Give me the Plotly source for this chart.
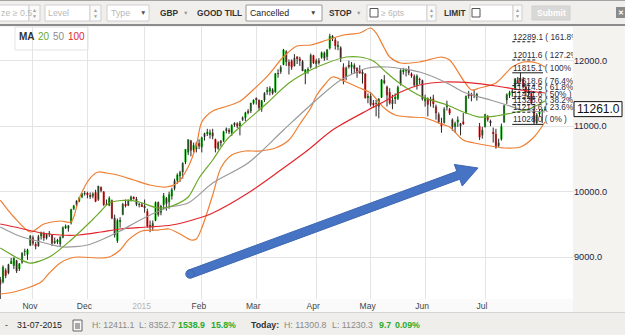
import plotly.graph_objects as go
import pandas as pd
import math

# ------------------------------------------------------------------ data
holidays = ["2014-12-25", "2014-12-26", "2015-01-01", "2015-04-03", "2015-04-06", "2015-05-01"]
dates = [d.strftime("%Y-%m-%d") for d in pd.bdate_range("2014-10-16", "2015-07-31")
         if d.strftime("%Y-%m-%d") not in holidays]

open_ = [
    8660, 8620, 8800, 8760, 8910, 8870, 8950, 8820, 8920, 9080, 9040, 9180,
    9300, 9200, 9170, 9320, 9370, 9290, 9360, 9340, 9230, 9240, 9200, 9300, 9450, 9440, 9520, 9740, 9800, 9860, 9920, 9970,
    9980, 9950, 9930, 9990, 9880, 10070, 10000, 9800, 9790, 9870, 9600, 9250, 9550, 9650, 9800, 9790, 9870, 9920, 9890, 9800, 9806,
    9780, 9700, 9480, 9470, 9560, 9840, 9680, 9800, 9900, 9840, 9930, 10050, 10170, 10240, 10300, 10450, 10600, 10780, 10640, 10650, 10740,
    10680, 10840, 10890, 10880, 10900, 10800, 10660, 10760, 10780, 10930, 10930, 10900, 11020, 11040, 11000, 11100, 11130, 11220, 11230, 11350,
    11420, 11400, 11270, 11400, 11520, 11530, 11560, 11520, 11800, 11830, 11940, 12140, 11980, 12000, 11920, 12060, 12030, 11990, 11800, 11850, 11900, 12080,
    11950, 12000, 12050, 12120, 12060, 12190, 12380, 12320, 12220, 12200, 11900, 11750, 11930, 11900, 11930, 11890, 11850, 11820, 11800, 11440,
    11460, 11340, 11340, 11300, 11440, 11700, 11600, 11520, 11340, 11420, 11420, 11640, 11840, 11850, 11860, 11800, 11760, 11620, 11720, 11700,
    11380, 11420, 11380, 11420, 11300, 11180, 11050, 11050, 11290, 11260, 11100, 10990, 11060, 11000, 11070, 11200, 11480, 11480, 11470, 11440, 11000, 10860,
    10990, 11150, 11080, 10900, 10880, 10700, 10800, 11060, 11400, 11470, 11520, 11580, 11700, 11690, 11720, 11600, 11540, 11500, 11250, 11050, 11190, 11230, 11251,
]
high = [
    8700, 8875, 8830, 8900, 8990, 9000, 8960, 8910, 9075, 9130, 9130, 9340,
    9330, 9230, 9340, 9390, 9390, 9370, 9400, 9350, 9300, 9280, 9320, 9470, 9500, 9490, 9740, 9800, 9870, 9920, 9980, 10010,
    10000, 9990, 9990, 10030, 10093, 10080, 10010, 9880, 9930, 9880, 9650, 9590, 9610, 9830, 9880, 9880, 9940, 9930, 9920, 9830, 9830,
    9880, 9740, 9560, 9560, 9850, 9850, 9800, 9980, 9920, 10000, 10060, 10200, 10280, 10320, 10450, 10650, 10800, 10790, 10750, 10760, 10800,
    10840, 10900, 10960, 10950, 10960, 10810, 10770, 10790, 10930, 10980, 10970, 11030, 11060, 11060, 11080, 11150, 11220, 11260, 11360, 11410,
    11440, 11410, 11400, 11520, 11600, 11610, 11580, 11810, 11870, 11930, 12180, 12160, 12020, 12020, 12100, 12070, 12060, 12010, 11870, 11900, 12110, 12090,
    12030, 12040, 12140, 12140, 12180, 12411, 12390, 12350, 12300, 12220, 11960, 11910, 12000, 11980, 11960, 11900, 11930, 11870, 11810, 11500,
    11520, 11400, 11400, 11430, 11720, 11780, 11620, 11580, 11480, 11500, 11620, 11870, 11890, 11880, 11920, 11820, 11790, 11790, 11740, 11710,
    11480, 11440, 11450, 11480, 11330, 11210, 11130, 11290, 11390, 11280, 11120, 11070, 11150, 11050, 11200, 11470, 11540, 11510, 11560, 11510, 11050, 10990,
    11190, 11170, 11100, 10980, 10960, 10810, 11040, 11330, 11500, 11540, 11580, 11720, 11750, 11815, 11750, 11640, 11600, 11540, 11300, 11200, 11260, 11260, 11301,
]
low = [
    8353, 8600, 8680, 8740, 8900, 8820, 8760, 8790, 8900, 9020, 8960, 9170,
    9180, 9120, 9160, 9270, 9250, 9270, 9310, 9170, 9200, 9200, 9170, 9290, 9430, 9390, 9500, 9720, 9780, 9840, 9900, 9940,
    9900, 9890, 9900, 9840, 9860, 9990, 9780, 9790, 9780, 9580, 9300, 9219, 9450, 9640, 9760, 9780, 9850, 9880, 9780, 9760, 9770,
    9680, 9450, 9382, 9400, 9550, 9620, 9640, 9730, 9710, 9740, 9880, 10020, 10120, 10150, 10200, 10420, 10560, 10540, 10600, 10600, 10650,
    10600, 10780, 10850, 10810, 10800, 10600, 10640, 10690, 10760, 10890, 10880, 10850, 10990, 10970, 10860, 11080, 11080, 11180, 11200, 11330,
    11330, 11240, 11220, 11370, 11480, 11470, 11480, 11510, 11740, 11800, 11930, 11920, 11790, 11860, 11910, 11950, 11920, 11840, 11640, 11800, 11880, 11950,
    11880, 11940, 12030, 12000, 12010, 12170, 12300, 12170, 12160, 11980, 11640, 11700, 11880, 11800, 11800, 11740, 11800, 11650, 11420, 11350,
    11300, 11280, 11150, 11120, 11430, 11640, 11300, 11330, 11260, 11340, 11400, 11620, 11790, 11760, 11780, 11740, 11600, 11560, 11640, 11390,
    11300, 11150, 11300, 11280, 11100, 11040, 10900, 11040, 11240, 11170, 10930, 10900, 10990, 10860, 11020, 11190, 11420, 11380, 11430, 11390, 10790, 10810,
    10980, 11070, 11000, 10750, 10657, 10680, 10780, 11050, 11340, 11430, 11450, 11560, 11650, 11670, 11580, 11460, 11460, 11330, 11028, 11030, 11150, 11050, 11230,
]
close = [
    8582, 8850, 8717, 8887, 8940, 8987, 8788, 8902, 9068, 9082, 9114, 9326,
    9210, 9166, 9315, 9377, 9291, 9351, 9369, 9210, 9248, 9252, 9306, 9456, 9472, 9483, 9732, 9785, 9861, 9915, 9974, 9980,
    9963, 9934, 9971, 9851, 10087, 10014, 9799, 9800, 9903, 9594, 9335, 9563, 9563, 9811, 9786, 9865, 9922, 9900, 9805, 9806, 9780,
    9764, 9473, 9469, 9518, 9837, 9648, 9782, 9941, 9818, 9960, 10032, 10168, 10257, 10299, 10435, 10649, 10798, 10628, 10710, 10738, 10694,
    10828, 10890, 10911, 10905, 10846, 10663, 10752, 10752, 10919, 10963, 10924, 11014, 11051, 11001, 11050, 11131, 11206, 11210, 11354, 11401,
    11409, 11280, 11390, 11504, 11551, 11582, 11500, 11806, 11799, 11901, 12167, 11980, 11922, 11899, 12039, 12041, 11996, 11843, 11865, 11868, 12086, 11966,
    12002, 11967, 12123, 12035, 12166, 12375, 12339, 12227, 12232, 12038, 11688, 11892, 11907, 11940, 11874, 11811, 11811, 11812, 11432, 11454,
    11328, 11327, 11350, 11417, 11709, 11673, 11472, 11351, 11400, 11447, 11595, 11853, 11849, 11864, 11815, 11770, 11625, 11771, 11707, 11413,
    11436, 11328, 11419, 11340, 11197, 11064, 11001, 11265, 11332, 11197, 10984, 11044, 11100, 11040, 11041, 11460, 11471, 11472, 11473, 11492, 10832, 10944,
    11180, 11099, 11058, 10891, 10676, 10747, 10996, 11316, 11485, 11516, 11539, 11716, 11673, 11734, 11604, 11521, 11512, 11347, 11057, 11174, 11211, 11252, 11261,
]

month_labels = ["Nov", "Dec", "2015", "Feb", "Mar", "Apr", "May", "Jun", "Jul"]
y_ticks = [9000, 10000, 11000, 12000]

# indicator lines (candle index, value)
ma20_idx = [0, 7, 11, 18, 26, 33, 37, 40, 47, 51, 58, 63, 69, 73, 78, 83, 88, 98, 106, 114, 120, 127, 132, 137, 142, 147, 155, 164, 170, 176, 182, 188, 195, 200]
ma20_val = [9140, 8973, 8911, 9003, 9263, 9537, 9705, 9828, 9873, 9843, 9751, 9782, 9919, 10209, 10484, 10789, 10988, 11354, 11660, 11858, 11965, 12056, 12056, 11995, 11812, 11644, 11446, 11324, 11217, 11140, 11156, 11202, 11278, 11385]
ma50_idx = [0, 7, 15, 23, 32, 37, 44, 51, 61, 69, 78, 91, 104, 116, 125, 135, 142, 154, 164, 170, 180, 186, 192, 200]
ma50_val = [9461, 9324, 9232, 9156, 9186, 9263, 9400, 9560, 9751, 9828, 10133, 10438, 10942, 11400, 11705, 11889, 11904, 11827, 11660, 11522, 11400, 11324, 11247, 11217]
ma100_idx = [0, 7, 15, 22, 29, 37, 44, 54, 63, 73, 78, 91, 103, 113, 122, 135, 142, 147, 154, 163, 173, 182, 191, 200]
ma100_val = [9507, 9446, 9370, 9339, 9339, 9385, 9431, 9461, 9492, 9599, 9675, 9980, 10331, 10637, 10942, 11247, 11400, 11522, 11629, 11675, 11660, 11614, 11553, 11507]
bb_up_idx = [0, 5, 11, 16, 22, 26, 29, 33, 36, 39, 43, 49, 55, 61, 65, 69, 72, 74, 78, 83, 88, 93, 98, 104, 109, 114, 120, 126, 132, 136, 138, 141, 143, 147, 154, 162, 165, 170, 173, 176, 182, 188, 192, 197, 200]
bb_up_val = [9873, 9614, 9385, 9507, 9553, 9538, 9904, 10209, 10301, 10286, 10255, 10179, 10102, 10072, 10133, 10377, 10713, 11064, 11232, 11300, 11380, 11560, 11760, 12060, 12224, 12240, 12316, 12392, 12423, 12499, 12423, 12194, 12056, 11965, 11980, 12056, 12011, 11705, 11553, 11583, 11660, 11904, 11980, 11965, 11904]
bb_lo_idx = [0, 5, 11, 15, 18, 22, 26, 29, 37, 40, 44, 47, 52, 58, 62, 66, 70, 72, 74, 78, 81, 85, 90, 95, 101, 106, 110, 114, 116, 119, 122, 127, 132, 136, 141, 145, 150, 156, 162, 165, 170, 174, 180, 185, 191, 196, 200]
bb_lo_val = [8438, 8469, 8545, 8621, 8759, 8912, 8988, 9003, 8988, 9003, 9110, 9263, 9400, 9415, 9431, 9354, 9263, 9278, 9446, 9950, 10362, 10560, 10621, 10621, 10667, 10789, 11034, 11278, 11461, 11629, 11751, 11675, 11583, 11507, 11278, 11171, 11141, 11125, 11034, 10988, 10789, 10744, 10698, 10667, 10682, 10835, 11064]

fib_pct = ["161.8%", "127.2%", "100%", "76.4%", "61.8%", "50%", "38.2%", "23.6%", "0%"]
fib_val = [12289.1, 12011.6, 11815.1, 11618.6, 11514.5, 11421.6, 11328.6, 11213.6, 11028.0]

last_price = 11261.0
last_date = "31-07-2015"
period_high, period_low, period_chg, period_pct = 12411.1, 8352.7, 1538.9, 15.8
today_high, today_low, today_chg, today_pct = 11300.8, 11230.3, 9.7, 0.09

# ------------------------------------------------------------------ styles
GREEN, RED = "#1fc41f", "#f03c3c"
C_MA20, C_MA50, C_MA100, C_BB = "#6aa828", "#9a9a9a", "#e2262d", "#ef7f33"
FONT = "Liberation Sans, Arial, sans-serif"

n = len(dates)
assert all(len(a) == n for a in (open_, high, low, close)), [len(a) for a in (dates, open_, high, low, close)]
idx = list(range(n))

body_base = [min(o, c) for o, c in zip(open_, close)]
body_h = [max(abs(c - o), 6) for o, c in zip(open_, close)]
body_col = [GREEN if c >= o else RED for o, c in zip(open_, close)]
wx, wy = [], []
for i in idx:
    wx += [i, i, None]
    wy += [low[i], high[i], None]

tick_pos, prev = [], dates[0][:7]
for i, d in enumerate(dates):
    if d[:7] != prev:
        tick_pos.append(i)
        prev = d[:7]
tick_text = [f"<span style='color:#b4b4b4'>{m}</span>" if m.isdigit() else m for m in month_labels]

fig = go.Figure()
fig.add_trace(go.Scatter(x=wx, y=wy, mode="lines", line=dict(color="#262626", width=1), hoverinfo="skip"))
fig.add_trace(go.Bar(x=idx, y=body_h, base=body_base, width=0.8,
                     marker=dict(color=body_col, line=dict(width=0)), hoverinfo="skip"))
for xs, ys, col in [(bb_up_idx, bb_up_val, C_BB), (bb_lo_idx, bb_lo_val, C_BB),
                    (ma100_idx, ma100_val, C_MA100), (ma50_idx, ma50_val, C_MA50),
                    (ma20_idx, ma20_val, C_MA20)]:
    fig.add_trace(go.Scatter(x=xs, y=ys, mode="lines",
                             line=dict(color=col, width=1.2, shape="spline", smoothing=0.8),
                             hoverinfo="skip"))

# fibonacci retracement
fib_x0 = dates.index("2015-07-15")
fib_x1 = dates.index("2015-07-30")
fig.add_trace(go.Scatter(x=[fib_x0 + 0.3] * len(fib_val), y=fib_val, mode="text",
                         text=[f"{v:.1f} ( {p} )" for v, p in zip(fib_val, fib_pct)],
                         textposition="top right", cliponaxis=True,
                         textfont=dict(size=8.3, color="#2b2b3b", family=FONT), hoverinfo="skip"))

shapes, annos = [], []
for v, p in zip(fib_val, fib_pct):
    solid = p in ("100%", "0%")
    shapes.append(dict(type="line", xref="x", yref="y", x0=fib_x0, x1=(fib_x1 + 0.3 if solid else fib_x0 + 8.7),
                       y0=v, y1=v, line=dict(color="#1a1a1a", width=1, dash=None if solid else "3px,2px"),
                       layer="above"))

# ------------------------------------------------------------------ page chrome (pixel helpers)
PW, PT, PB = 573.0, 27.0, 299.0
PH = PB - PT


def px(x):
    return x / PW


def py(y):
    return (PB - y) / PH


def rect(x0, y0, x1, y1, fill, line=None, lw=1, layer="above"):
    shapes.append(dict(type="rect", xref="paper", yref="paper", x0=px(x0), x1=px(x1), y0=py(y1), y1=py(y0),
                       fillcolor=fill, line=dict(color=line if line else fill, width=lw if line else 0),
                       layer=layer))


def text(x, y, s, size=9, color="#333", anchor="left", bold=False, family=FONT):
    annos.append(dict(xref="paper", yref="paper", x=px(x), y=py(y), text=(f"<b>{s}</b>" if bold else s),
                      showarrow=False, xanchor=anchor, yanchor="middle", borderpad=0,
                      font=dict(size=size, color=color, family=family)))


# backgrounds
rect(0, 0, 625, 24, "#f1efec", layer="below")
rect(0, 0, 625, 1, "#a4a4a4", layer="below")
rect(0, 24, 625, 26, "#8c8c8c", layer="below")
rect(0, 299, 573, 312, "#fafafa", layer="below")
rect(0, 312, 625, 335, "#efeeeb", layer="below")
rect(0, 312, 625, 313, "#d4d4d4", layer="below")

# toolbar
GRAYTXT = "#b9b9b9"
BORDER = "#cfcfcf"


def spinner(x0, x1):
    rect(x0, 5, x1, 21, "#fafafa", BORDER)
    c = (x0 + x1) / 2
    text(c, 9.8, "▲", 5, "#a0a0a0", "center")
    text(c, 16.2, "▼", 5, "#a0a0a0", "center")


rect(-2, 5, 29, 21, "white", BORDER)
text(0, 13, "ze ≥ 0.5", 8.8, GRAYTXT)
spinner(29, 40)
rect(45, 5, 90, 21, "white", BORDER)
text(47, 13, "Level", 8.8, GRAYTXT)
spinner(90, 101)
rect(107, 5, 149, 21, "white", BORDER)
text(110, 13, "Type", 8.8, GRAYTXT)
text(143, 13, "▼", 6.5, "#555", "center")
text(159, 13, "GBP", 8.3, "#333", bold=True)
text(185, 13, "▼", 5.5, "#9a9a9a", "center")
text(196, 13, "GOOD TILL", 8.3, "#333", bold=True)
rect(246, 5, 322, 21, "white", "#9a9a9a")
text(249, 13, "Cancelled", 8.8, "#1a1a1a")
text(313, 13, "▼", 6.5, "#444", "center")
text(328, 13, "STOP", 8.3, "#333", bold=True)
text(358, 13, "▼", 5.5, "#9a9a9a", "center")
rect(367, 5, 427, 21, "white", BORDER)
rect(370, 8.5, 378, 17, "white", "#555")
text(380, 13, "≥ 6pts", 8.5, GRAYTXT)
spinner(427, 436)
text(443, 13, "LIMIT", 8.3, "#333", bold=True)
rect(470, 5, 513, 21, "white", BORDER)
rect(472, 8.5, 480, 17, "white", "#555")
spinner(513, 522)
rect(532, 6, 570, 20, "#d8d8d6", "#d0d0ce")
text(551, 13, "Submit", 8.5, "white", "center", bold=True)
rect(616, 7, 627, 18, "#8a8a8a")
text(621, 12.5, "✕", 7, "white", "center", bold=True)

# MA legend box
rect(15, 27, 88, 50, "white", "#e3e3e3", layer="below")
text(18, 36, "MA", 10, "#333", bold=True)
text(37, 36, "20", 10, C_MA20)
text(52, 36, "50", 10, "#8c8c8c")
text(67, 36, "100", 10, C_MA100)

# last price box
shapes.append(dict(type="rect", xref="paper", yref="y", x0=px(574), x1=px(622), ysizemode="pixel",
                   yanchor=last_price, y0=-7.5, y1=7.5, fillcolor="white",
                   line=dict(color="#111", width=1), layer="above"))
annos.append(dict(xref="paper", yref="y", x=px(598), y=last_price, text=f"{last_price:.1f}", showarrow=False,
                  xanchor="center", yanchor="middle", font=dict(size=12, color="#111", family=FONT)))

# status bar
GREEN_T = "#2aaa2a"
SB = 8.8
text(4, 325, "-", SB, "#333")
text(16, 325, last_date, SB, "#222")
rect(73, 320, 82, 331, "#f6f6f6", "#666")
rect(75, 323, 80, 329, "#a8a8a8")
text(91, 325, f"H: {period_high:.1f}", SB, "#8a8a8a")
text(138, 325, f"L: {period_low:.1f}", SB, "#8a8a8a")
text(177, 325, f"{period_chg:.1f}", SB, GREEN_T, bold=True)
text(210, 325, f"{period_pct:.1f}%", SB, GREEN_T, bold=True)
text(250, 325, "Today:", SB, "#333", bold=True)
text(283, 325, f"H: {today_high:.1f}", SB, "#8a8a8a")
text(331, 325, f"L: {today_low:.1f}", SB, "#8a8a8a")
text(378, 325, f"{today_chg:.1f}", SB, GREEN_T, bold=True)
text(394, 325, f"{today_pct:.2f}%", SB, GREEN_T, bold=True)

# blue arrow (drawn annotation on the picture)
tx, ty, hx, hy = 190.0, 274.0, 478.0, 168.0
L = math.hypot(hx - tx, hy - ty)
ux, uy = (hx - tx) / L, (hy - ty) / L
nx, ny = -uy, ux
sw, hw, hl = 4.2, 11.5, 21.0
bx, by = hx - hl * ux, hy - hl * uy
pts = [(tx + sw * nx, ty + sw * ny), (bx + sw * nx, by + sw * ny), (bx + hw * nx, by + hw * ny), (hx, hy),
       (bx - hw * nx, by - hw * ny), (bx - sw * nx, by - sw * ny), (tx - sw * nx, ty - sw * ny)]
path = "M " + " L ".join(f"{px(a):.5f},{py(b):.5f}" for a, b in pts) + " Z"
shapes.append(dict(type="path", xref="paper", yref="paper", path=path, fillcolor="#4673c3",
                   line=dict(color="#3e67b2", width=1), layer="above"))
shapes.append(dict(type="circle", xref="paper", yref="paper", x0=px(tx - sw), x1=px(tx + sw),
                   y0=py(ty + sw), y1=py(ty - sw), fillcolor="#4673c3",
                   line=dict(color="#3e67b2", width=1), layer="above"))

fig.update_layout(
    width=625, height=335, margin=dict(l=0, r=52, t=27, b=36),
    paper_bgcolor="#f4f3f0", plot_bgcolor="white", showlegend=False,
    xaxis=dict(range=[-0.1, 210.3], tickvals=tick_pos, ticktext=tick_text, showgrid=True,
               gridcolor="#e4e4e4", gridwidth=1, zeroline=False, showline=False, ticks="",
               tickfont=dict(size=8.5, color="#444", family=FONT), ticklabelshift=-3, fixedrange=True),
    yaxis=dict(side="right", range=[8362, 12514.5], tickvals=y_ticks, ticktext=[f"{v:.1f}" for v in y_ticks],
               showgrid=True, gridcolor="#e4e4e4", gridwidth=1, zeroline=False, showline=False, ticks="",
               tickfont=dict(size=9.2, color="#1d1d3a", family=FONT), fixedrange=True),
    shapes=shapes, annotations=annos,
)

fig.write_html("out.html")
